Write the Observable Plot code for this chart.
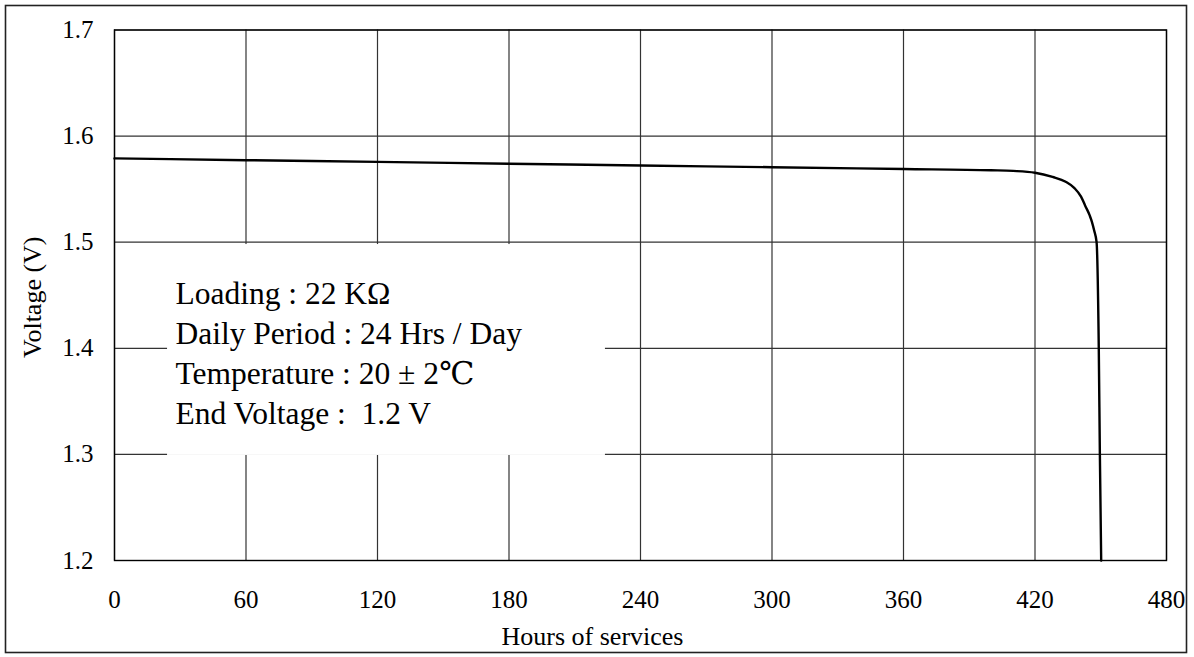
<!DOCTYPE html>
<html>
<head>
<meta charset="utf-8">
<script src="https://cdn.jsdelivr.net/npm/d3@7"></script>
<script src="https://cdn.jsdelivr.net/npm/@observablehq/plot@0.6"></script>
<style>
  html, body { margin: 0; padding: 0; background: #fff; }
  #chart svg { display: block; }
</style>
</head>
<body>
<div id="chart"></div>
<script>
// ---- data ----
const hours = [0, 60, 120, 180, 240, 300, 360, 400, 410, 420, 428, 434, 438, 441, 443, 445, 446, 447, 448.1, 449.1, 449.6, 450.2];
const volts = [1.579, 1.5773, 1.5757, 1.574, 1.5723, 1.5707, 1.569, 1.5678, 1.5672, 1.5655, 1.5615, 1.557, 1.551, 1.543, 1.534, 1.525, 1.519, 1.511, 1.5, 1.4, 1.3, 1.2];
const xTicks = [0, 60, 120, 180, 240, 300, 360, 420, 480];
const yTicks = [1.2, 1.3, 1.4, 1.5, 1.6, 1.7];
const xLabel = "Hours of services";
const yLabel = "Voltage (V)";
const notes = [
  "Loading : 22 K\u03A9",
  "Daily Period : 24 Hrs / Day",
  "Temperature : 20 \u00B1 2\u2103",
  "End Voltage :  1.2 V"
];
// annotation box extent (data units)
const noteBox = [{x1: 24.2, x2: 224, y1: 1.299, y2: 1.4978}];
const noteAnchor = [{x: 27.8, y: 1.4685}];

const curve = hours.map((h, i) => ({hours: h, volts: volts[i]}));

const serif = "'Liberation Serif', 'Times New Roman', 'DejaVu Serif', 'Noto Sans CJK SC', serif";

const plot = Plot.plot({
  width: 1194,
  height: 657,
  marginLeft: 114,
  marginRight: 28,
  marginTop: 29.5,
  marginBottom: 97,
  style: {fontFamily: serif, fontSize: "25px", color: "#000", background: "#fff"},
  x: {domain: [0, 480], ticks: xTicks, label: null, tickSize: 0, tickPadding: 30},
  y: {domain: [1.2, 1.7], ticks: yTicks, label: null, tickSize: 0, tickPadding: 21, tickFormat: d => d.toFixed(1)},
  marks: [
    Plot.gridX(xTicks, {stroke: "#333", strokeOpacity: 1, strokeWidth: 1.2}),
    Plot.gridY(yTicks, {stroke: "#333", strokeOpacity: 1, strokeWidth: 1.2}),
    Plot.rect(noteBox, {x1: "x1", x2: "x2", y1: "y1", y2: "y2", fill: "#fff"}),
    Plot.text(noteAnchor, {x: "x", y: "y", text: () => notes.join("\n"), textAnchor: "start", lineAnchor: "top",
      fontSize: 31.5, lineHeight: 1.27, fill: "#000", fontFamily: serif}),
    Plot.line(curve, {x: "hours", y: "volts", stroke: "#000", strokeWidth: 2.4, curve: "monotone-x"}),
    Plot.frame({stroke: "#000", strokeWidth: 1.4}),
    Plot.axisX(xTicks, {tickSize: 0, tickPadding: 30, fontSize: 25}),
    Plot.axisY(yTicks, {tickSize: 0, tickPadding: 21, fontSize: 25, tickFormat: d => d.toFixed(1)}),
    Plot.text([xLabel], {frameAnchor: "bottom", dx: -48, dy: 76, lineAnchor: "middle", text: d => d, fontSize: 26, fill: "#000"}),
    Plot.text([yLabel], {frameAnchor: "left", dx: -82, dy: 2, rotate: -90, textAnchor: "middle", lineAnchor: "middle", text: d => d, fontSize: 26, fill: "#000"})
  ]
});

document.getElementById("chart").appendChild(plot);

// outer border around the whole figure
d3.select(plot).append("rect")
  .attr("x", 5.5).attr("y", 5.5)
  .attr("width", 1181).attr("height", 647)
  .attr("fill", "none").attr("stroke", "#222").attr("stroke-width", 1.6);
</script>
</body>
</html>
